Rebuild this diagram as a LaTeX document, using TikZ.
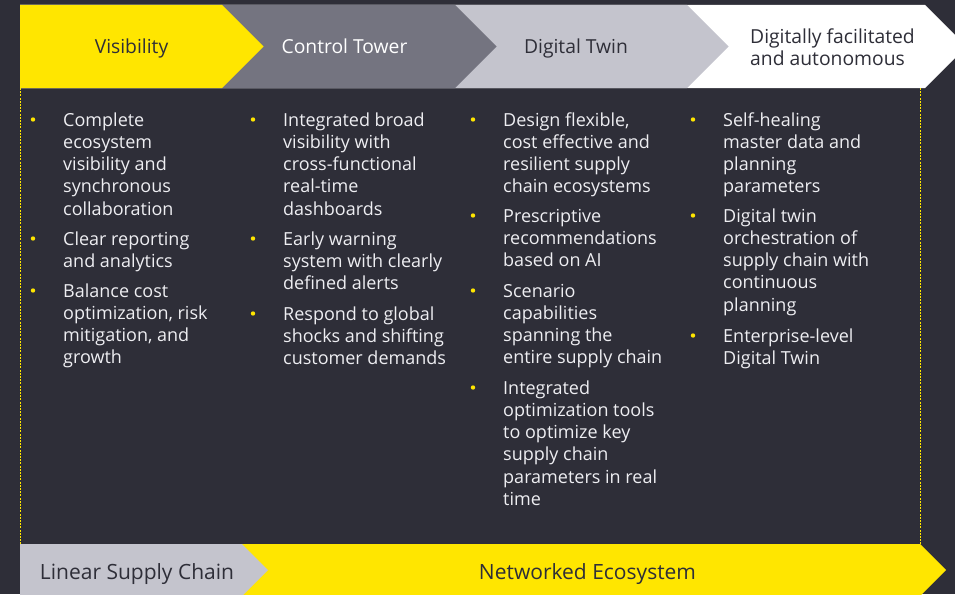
\documentclass[tikz,border=0pt]{standalone}
\usepackage{fontspec}
\setmainfont{Open Sans}
\definecolor{eydark}{HTML}{2E2E38}
\definecolor{eyyellow}{HTML}{FFE600}
\definecolor{eygray}{HTML}{747480}
\definecolor{eylight}{HTML}{C4C4CD}
\definecolor{bodytxt}{HTML}{EEEEF2}
% stacked lines whose baseline is the first line's
\newcommand\itemlines[1]{\begin{tabular}[t]{@{}l@{}}#1\end{tabular}}
\begin{document}
\begin{tikzpicture}[x=1pt,y=-1pt,
  stage/.style={font=\fontsize{19.3}{22}\selectfont, inner sep=0pt, anchor=base},
  band/.style={font=\fontsize{21}{24}\selectfont, inner sep=0pt, anchor=base, text=eydark},
  item/.style={font=\fontsize{18}{22.3}\selectfont, text=bodytxt, anchor=base west, inner sep=0pt},
  dot/.style={circle, fill=eyyellow, inner sep=0pt, minimum size=4.4pt},
  rail/.style={eyyellow, line width=0.8pt, dash pattern=on 2pt off 1.2pt}]
\useasboundingbox (0,0) rectangle (955,594);
\clip (0,0) rectangle (955,594);
\fill[eydark] (0,0) rectangle (955,594);

% maturity stages, drawn back to front
\fill[white]     (20,5) -- (925,5) -- (966.5,46.5) -- (925,88) -- (20,88) -- cycle;
\fill[eylight]   (20,5) -- (687,5) -- (728.5,46.5) -- (687,88) -- (20,88) -- cycle;
\fill[eygray]    (20,5) -- (455,5) -- (496.5,46.5) -- (455,88) -- (20,88) -- cycle;
\fill[eyyellow]  (20,5) -- (222,5) -- (263.5,46.5) -- (222,88) -- (20,88) -- cycle;

\node[stage, text=eydark] (s1) at (131.5,54) {Visibility};
\node[stage, text=white]  (s2) at (344.5,54) {Control Tower};
\node[stage, text=eydark] (s3) at (576,54) {Digital Twin};
\node[stage, text=eydark, anchor=base west] (s4) at (750,43.3)
  {\begin{tabular}[t]{@{}l@{}}Digitally facilitated\\[0.6pt]and autonomous\end{tabular}};

% dashed side rails
\coordinate (rl1) at (20.5,88);  \coordinate (rl2) at (20.5,544);
\coordinate (rr1) at (920,88);   \coordinate (rr2) at (920,544);
\draw[rail] (rl1) -- (rl2);
\draw[rail] (rr1) -- (rr2);

% bottom band
\fill[eyyellow] (20,544) -- (920,544) -- (946,570) -- (920,596) -- (20,596) -- cycle;
\fill[eylight]  (20,544) -- (242,544) -- (268,570) -- (242,596) -- (20,596) -- cycle;
\node[band] (b1) at (137,579) {Linear Supply Chain};
\node[band] (b2) at (587.5,579) {Networked Ecosystem};

% column 1
\node[item] (a1) at (63,126) {\itemlines{Complete\\ecosystem\\visibility and\\synchronous\\collaboration}};
\node[item] (a2) at (63,245) {\itemlines{Clear reporting\\and analytics}};
\node[item] (a3) at (63,297) {\itemlines{Balance cost\\optimization, risk\\mitigation, and\\growth}};
\node[dot] (da1) at (33,119.5) {};
\node[dot] (da2) at (33,238.5) {};
\node[dot] (da3) at (33,290.5) {};

% column 2
\node[item] (c1) at (283,126) {\itemlines{Integrated broad\\visibility with\\cross-functional\\real-time\\dashboards}};
\node[item] (c2) at (283,245) {\itemlines{Early warning\\system with clearly\\defined alerts}};
\node[item] (c3) at (283,320) {\itemlines{Respond to global\\shocks and shifting\\customer demands}};
\node[dot] (dc1) at (253,119.5) {};
\node[dot] (dc2) at (253,238.5) {};
\node[dot] (dc3) at (253,313.5) {};

% column 3
\node[item] (t1) at (503,126) {\itemlines{Design flexible,\\cost effective and\\resilient supply\\chain ecosystems}};
\node[item] (t2) at (503,222) {\itemlines{Prescriptive\\recommendations\\based on AI}};
\node[item] (t3) at (503,297) {\itemlines{Scenario\\capabilities\\spanning the\\entire supply chain}};
\node[item] (t4) at (503,394) {\itemlines{Integrated\\optimization tools\\to optimize key\\supply chain\\parameters in real\\time}};
\node[dot] (dt1) at (473,119.5) {};
\node[dot] (dt2) at (473,215.5) {};
\node[dot] (dt3) at (473,290.5) {};
\node[dot] (dt4) at (473,387.5) {};

% column 4
\node[item] (f1) at (723,126) {\itemlines{Self-healing\\master data and\\planning\\parameters}};
\node[item] (f2) at (723,222) {\itemlines{Digital twin\\orchestration of\\supply chain with\\continuous\\planning}};
\node[item] (f3) at (723,342) {\itemlines{Enterprise-level\\Digital Twin}};
\node[dot] (df1) at (693,119.5) {};
\node[dot] (df2) at (693,215.5) {};
\node[dot] (df3) at (693,335.5) {};
\end{tikzpicture}
\end{document}
